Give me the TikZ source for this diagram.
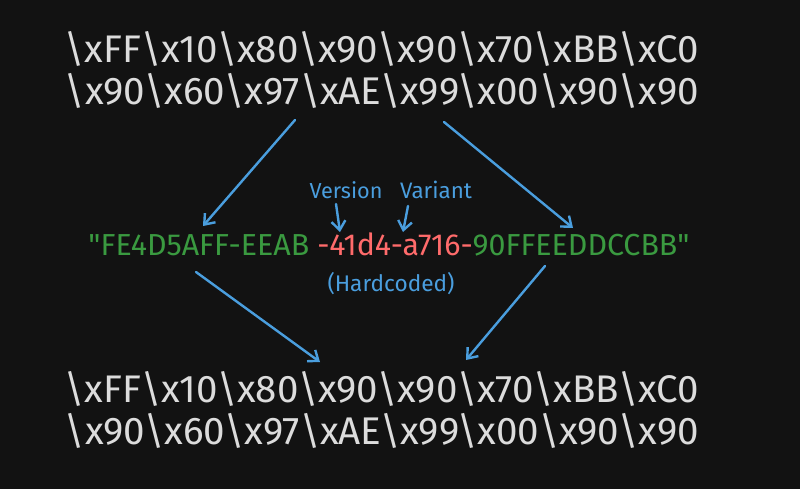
\documentclass[tikz,border=0pt]{standalone}
\usepackage{fontspec}
\setmainfont{Fira Sans}
\newfontfamily\qfont{Fira Sans}
\usetikzlibrary{arrows.meta}
\definecolor{bg}{HTML}{121212}
\definecolor{txt}{HTML}{DCDCDC}
\definecolor{grn}{HTML}{3A9A40}
\definecolor{red}{HTML}{FF6B6B}
\definecolor{blu}{HTML}{4A9EDE}
\tikzset{
  hex/.style={text=txt, inner sep=0pt, anchor=center},
  lbl/.style={text=blu, inner sep=0pt, anchor=center},
  arr/.style={draw=blu, line width=2.4pt, line cap=round, -{Straight Barb[length=9pt,width=14pt,line width=2.4pt]}},
}
\newcommand{\qq}{{\qfont\char34\relax}}
\begin{document}
\begin{tikzpicture}[x=1pt,y=-1pt]
\fill[bg] (0,0) rectangle (800,489);
\useasboundingbox (0,0) rectangle (800,489);
\node[hex] (t1) at (382,49) {\resizebox{634pt}{!}{\fontsize{28}{28}\selectfont\textbackslash xFF\textbackslash x10\textbackslash x80\textbackslash x90\textbackslash x90\textbackslash x70\textbackslash xBB\textbackslash xC0}};
\node[hex] (t2) at (382,91) {\resizebox{634pt}{!}{\fontsize{28}{28}\selectfont\textbackslash x90\textbackslash x60\textbackslash x97\textbackslash xAE\textbackslash x99\textbackslash x00\textbackslash x90\textbackslash x90}};
\node[hex] (b1) at (382,389) {\resizebox{634pt}{!}{\fontsize{28}{28}\selectfont\textbackslash xFF\textbackslash x10\textbackslash x80\textbackslash x90\textbackslash x90\textbackslash x70\textbackslash xBB\textbackslash xC0}};
\node[hex] (b2) at (382,431) {\resizebox{634pt}{!}{\fontsize{28}{28}\selectfont\textbackslash x90\textbackslash x60\textbackslash x97\textbackslash xAE\textbackslash x99\textbackslash x00\textbackslash x90\textbackslash x90}};
\node[hex] (mid) at (389,244) {\resizebox{601pt}{!}{\fontsize{22}{22}\selectfont\textcolor{grn}{\qq FE4D5AFF-EEAB }\textcolor{red}{-41d4-a716-}\textcolor{grn}{90FFEEDDCCBB\qq}}};
\node[lbl] (ver) at (346,190) {\resizebox{73pt}{!}{\fontsize{17}{17}\selectfont Version}};
\node[lbl] (var) at (436,190) {\resizebox{72pt}{!}{\fontsize{17}{17}\selectfont Variant}};
\node[lbl] (hc) at (391,284) {\resizebox{127pt}{!}{\fontsize{17}{17}\selectfont (Hardcoded)}};
\coordinate (a1s) at (295,120); \coordinate (a1e) at (203,226);
\coordinate (a2s) at (444,122); \coordinate (a2e) at (573,228);
\coordinate (a3s) at (196,272); \coordinate (a3e) at (320,362);
\coordinate (a4s) at (545,266); \coordinate (a4e) at (466,360);
\coordinate (vs) at (336,204); \coordinate (ve) at (340,232);
\coordinate (ws) at (408,206); \coordinate (we) at (403,232);
\draw[arr] (a1s) -- (a1e);
\draw[arr] (a2s) -- (a2e);
\draw[arr] (a3s) -- (a3e);
\draw[arr] (a4s) -- (a4e);
\draw[arr] (vs) -- (ve);
\draw[arr] (ws) -- (we);
\end{tikzpicture}
\end{document}
